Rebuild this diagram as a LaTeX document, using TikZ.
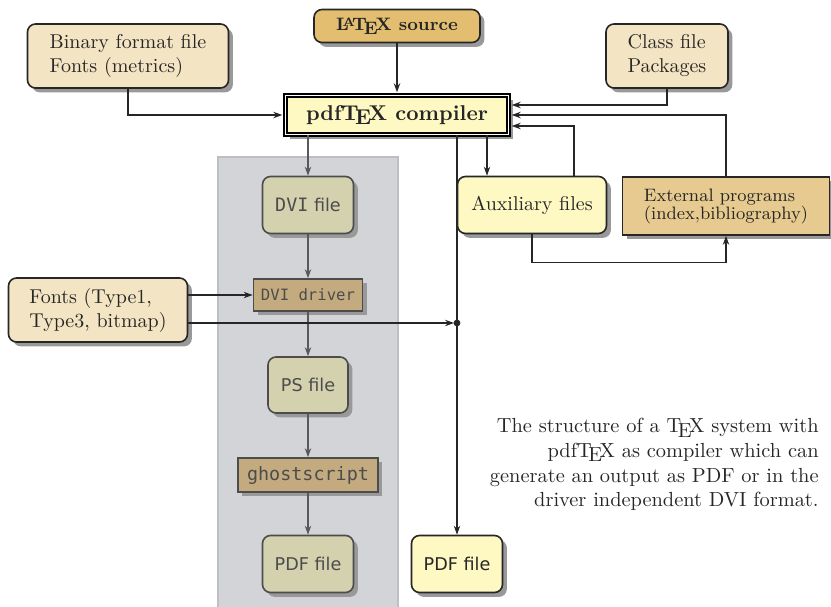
\documentclass[tikz,border=0pt]{standalone}
\usepackage{fontspec}
\setsansfont{DejaVu Sans}[Scale=0.88]
\setmonofont{DejaVu Sans Mono}[Scale=0.92]
\usetikzlibrary{arrows.meta,shadows}
\definecolor{wheat}{HTML}{F3E4C3}
\definecolor{gold}{HTML}{E3BE70}
\definecolor{paleyellow}{HTML}{FEF8C3}
\definecolor{sand}{HTML}{E7CA8F}
\definecolor{olive}{HTML}{D4D1AF}
\definecolor{khaki}{HTML}{C4AB7F}
\definecolor{panel}{HTML}{D3D4D7}
\definecolor{panelline}{HTML}{BEBFC2}
\begin{document}
\begin{tikzpicture}[x=0.5pt,y=-0.5pt,
  box/.style={draw=black!85, line width=0.8pt, fill=#1, text=black!85, inner sep=2pt,
    drop shadow={shadow xshift=2.2pt, shadow yshift=-2.2pt, fill=black!40, opacity=1}},
  round/.style={box=#1, rounded corners=4pt},
  grey/.style={round=olive, draw=black!70, text=black!70, font=\sffamily},
  prog/.style={box=khaki, draw=black!70, text=black!70, font=\ttfamily},
  arrow/.style={-{Stealth[length=4.5pt,width=3.2pt]}, line width=0.7pt, draw=black!85},
  inarrow/.style={arrow, draw=black!65}
]
\useasboundingbox (0,0) rectangle (831,606);
\filldraw[fill=panel, draw=panelline, line width=0.8pt] (218,157) rectangle (398,612);

\node[round=gold, minimum width=83pt, minimum height=16.5pt, font={\fontsize{9}{11}\selectfont\bfseries}] (latex) at (397,26) {\LaTeX\ source};
\node[round=wheat, minimum width=100.5pt, minimum height=32pt, align=left] (binary) at (128,56) {Binary format file\\Fonts (metrics)};
\node[round=wheat, minimum width=61pt, minimum height=32pt, align=left] (class) at (667,56) {Class file\\Packages};
\node[box=paleyellow, draw=black, double=white, double distance=0.8pt, minimum width=111.5pt, minimum height=19.5pt, font={\fontsize{10.7}{13}\selectfont\bfseries}] (compiler) at (397,115) {pdf\TeX\ compiler};

\node[grey, minimum width=45.5pt, minimum height=28.5pt] (dvi) at (308,205) {\texttt{DVI} file};
\node[prog, minimum width=54.5pt, minimum height=16pt, font={\fontsize{8.5}{10}\selectfont\ttfamily}] (driver) at (308,295) {DVI driver};
\node[grey, minimum width=40pt, minimum height=28pt] (ps) at (308,385) {PS file};
\node[prog, minimum width=70pt, minimum height=17pt] (ghost) at (308,475) {ghostscript};
\node[grey, minimum width=45.5pt, minimum height=28.5pt] (pdf) at (308,564) {PDF file};

\node[round=wheat, minimum width=89.5pt, minimum height=32pt, align=left] (fonts) at (98,310) {Fonts (Type1,\\Type3, bitmap)};
\node[round=paleyellow, minimum width=74.5pt, minimum height=28.5pt] (aux) at (532,205) {Auxiliary files};
\node[box=sand, minimum width=103.5pt, minimum height=29pt, align=left, font={\fontsize{9}{9}\selectfont}] (ext) at (726,206) {External programs\\(index,bibliography)};
\node[round=paleyellow, minimum width=45.5pt, minimum height=28.5pt, font=\sffamily] (pdfout) at (457,564) {PDF file};

\node[anchor=north east, align=right, inner sep=0pt, text=black!85, font={\fontsize{10.2}{12.35}\selectfont}] (caption) at (819,418) {The structure of a \TeX\ system with\\pdf\TeX\ as compiler which can\\generate an output as PDF or in the\\driver independent DVI format.};

\coordinate (auxin) at ([xshift=-22.5pt]aux.north);
\coordinate (auxout) at ([xshift=21pt]aux.north);
\coordinate (junc) at (457,323);

\draw[arrow, shorten >=1.2pt] (latex) -- (compiler);
\draw[arrow, shorten >=1.2pt] (binary) |- (compiler);
\draw[arrow, shorten >=1.2pt] (class) |- ([yshift=5pt]compiler.east);
\draw[arrow, shorten >=1.2pt] (ext) |- (compiler);
\draw[arrow, shorten >=1.2pt] (auxout) |- ([yshift=-5.5pt]compiler.east);
\draw[arrow] (compiler.south -| auxin) -- (auxin);
\draw[arrow] (compiler.south -| pdfout) -- (pdfout);
\draw[arrow] (aux.south) -- ++(0,28) -| (ext.south);

\draw[inarrow] (compiler.south -| dvi) -- (dvi);
\draw[inarrow] (dvi) -- (driver);
\draw[inarrow] (driver) -- (ps);
\draw[inarrow] (ps) -- (ghost);
\draw[inarrow] (ghost) -- (pdf);

\draw[arrow] (fonts.east |- driver) -- (driver);
\draw[arrow, shorten >=1.5pt] (fonts.east |- junc) -- (junc);
\fill[black!85] (junc) circle (1.7pt);
\end{tikzpicture}
\end{document}
